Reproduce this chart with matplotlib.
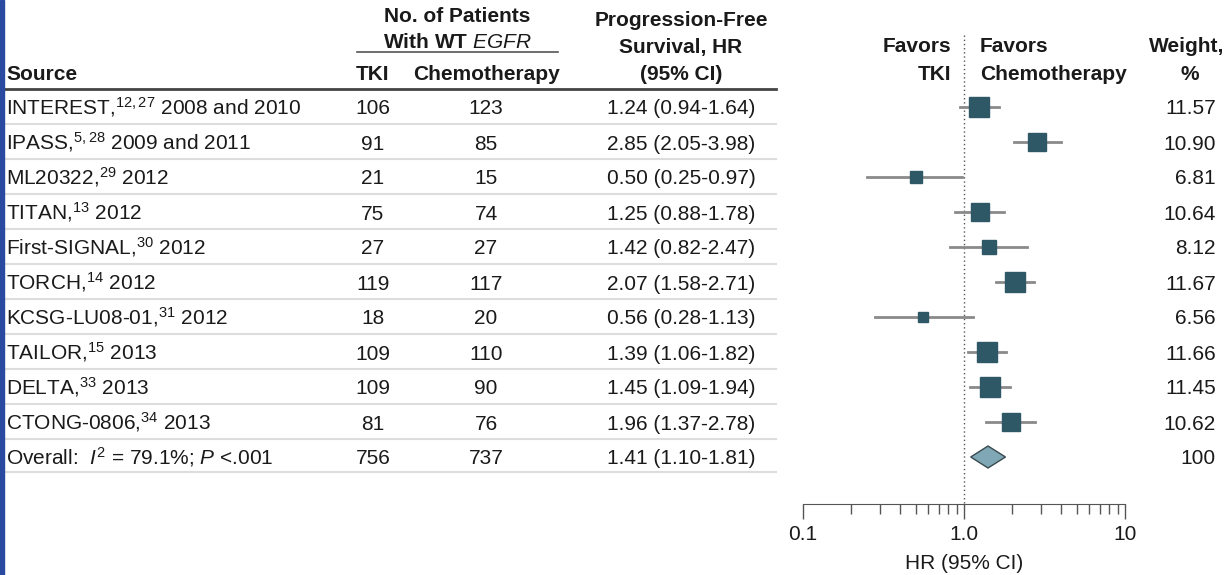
import numpy as np
import matplotlib
matplotlib.use("Agg")
import matplotlib.pyplot as plt
from matplotlib import font_manager
from matplotlib.patches import Rectangle, Polygon

names = {f.name for f in font_manager.fontManager.ttflist}
FONT = "Liberation Sans Narrow" if "Liberation Sans Narrow" in names else "Liberation Sans"
plt.rcParams["font.family"] = [FONT, "DejaVu Sans"]
plt.rcParams["mathtext.fontset"] = "custom"
plt.rcParams["mathtext.rm"] = FONT
plt.rcParams["mathtext.it"] = FONT + ":italic"

# data
sources = ["INTEREST", "IPASS", "ML20322", "TITAN", "First-SIGNAL", "TORCH",
           "KCSG-LU08-01", "TAILOR", "DELTA", "CTONG-0806"]
refs = ["12,27", "5,28", "29", "13", "30", "14", "31", "15", "33", "34"]
years = ["2008 and 2010", "2009 and 2011", "2012", "2012", "2012", "2012",
         "2012", "2013", "2013", "2013"]
n_tki = [106, 91, 21, 75, 27, 119, 18, 109, 109, 81]
n_chemo = [123, 85, 15, 74, 27, 117, 20, 110, 90, 76]
hr = [1.24, 2.85, 0.50, 1.25, 1.42, 2.07, 0.56, 1.39, 1.45, 1.96]
lo = [0.94, 2.05, 0.25, 0.88, 0.82, 1.58, 0.28, 1.06, 1.09, 1.37]
hi = [1.64, 3.98, 0.97, 1.78, 2.47, 2.71, 1.13, 1.82, 1.94, 2.78]
weight = [11.57, 10.90, 6.81, 10.64, 8.12, 11.67, 6.56, 11.66, 11.45, 10.62]
overall_n = (756, 737)
overall_hr = (1.41, 1.10, 1.81)
overall_label = "Overall:  $I^{2}$ = 79.1%; $P$ <.001"

W, H = 1226, 575
fig = plt.figure(figsize=(W / 100, H / 100), dpi=100)
tab = fig.add_axes([0, 0, 1, 1])
tab.set_xlim(0, W)
tab.set_ylim(H, 0)
tab.axis("off")

FS = 15
dark = "#1a1a1a"
row_y = 107 + 35 * np.arange(len(sources) + 1)


def txt(x, y, s, ha="center", bold=False):
    # y is the visual middle of capital letters
    tab.text(x, y + 7.5, s, ha=ha, va="baseline", fontsize=FS, color=dark,
             weight="bold" if bold else "normal")


# left blue strip
tab.add_patch(Rectangle((0, 0), 4, H, color="#2a4aa0", zorder=5))

# headers
txt(457, 15, "No. of Patients", bold=True)
txt(457, 40, "With WT $\\it{EGFR}$", bold=True)
tab.plot([357, 558], [52, 52], color="#555555", lw=1.2)
txt(6, 72, "Source", ha="left", bold=True)
txt(373, 72, "TKI", bold=True)
txt(486, 72, "Chemotherapy", bold=True)
for yy, t in zip([18, 45, 72], ["Progression-Free", "Survival, HR", "(95% CI)"]):
    txt(681, yy, t, bold=True)
txt(951, 45, "Favors", ha="right", bold=True)
txt(951, 72, "TKI", ha="right", bold=True)
txt(980, 45, "Favors", ha="left", bold=True)
txt(980, 72, "Chemotherapy", ha="left", bold=True)
txt(1224, 45, "Weight,", ha="right", bold=True)
txt(1190, 72, "%", bold=True)
tab.plot([0, 776], [89, 89], color="#444444", lw=2)

# rows
for i in range(len(sources)):
    y = row_y[i]
    txt(6, y, "%s,$^{\\mathregular{%s}}$ %s" % (sources[i], refs[i], years[i]), ha="left")
    txt(373, y, str(n_tki[i]))
    txt(486, y, str(n_chemo[i]))
    txt(681, y, "%.2f (%.2f-%.2f)" % (hr[i], lo[i], hi[i]))
    txt(1216, y, "%.2f" % weight[i], ha="right")
    tab.plot([0, 776], [y + 17, y + 17], color="#dddddd", lw=1.5)

y = row_y[-1]
txt(6, y, overall_label, ha="left")
txt(373, y, str(overall_n[0]))
txt(486, y, str(overall_n[1]))
txt(681, y, "%.2f (%.2f-%.2f)" % overall_hr)
txt(1216, y, "100", ha="right")
tab.plot([0, 776], [y + 15, y + 15], color="#dddddd", lw=1.5)

# forest panel
ax = fig.add_axes([803 / W, 0, 322 / W, 1])
ax.set_xscale("log")
ax.set_xlim(0.1, 10)
ax.set_ylim(H, 0)
ax.patch.set_alpha(0)
for s in ["top", "left", "right"]:
    ax.spines[s].set_visible(False)
ax.spines["bottom"].set_position(("data", 504))
ax.spines["bottom"].set_color("#555555")
ax.set_yticks([])
ax.set_xticks([0.1, 1, 10])
ax.set_xticklabels(["0.1", "1.0", "10"])
ax.tick_params(axis="x", which="major", direction="out", length=11, width=1, color="#555555",
               labelsize=FS, pad=4, labelcolor=dark)
ax.tick_params(axis="x", which="minor", direction="out", length=7, width=1, color="#555555")
ax.text(1.0, 569, "HR (95% CI)", ha="center", va="baseline", fontsize=FS, color=dark)

ax.plot([1, 1], [35, 504], color="#555555", lw=1, ls=(0, (1, 2)))

sq = "#2e5866"
for i in range(len(sources)):
    y = row_y[i]
    ax.plot([lo[i], hi[i]], [y, y], color="#8a8a8a", lw=2, zorder=2)
    ax.plot(hr[i], y, marker="s", ms=1.2 * weight[i], color=sq, mec=sq, zorder=3)

h, l, u = overall_hr
y = row_y[-1]
ax.add_patch(Polygon([(l, y), (h, y - 11), (u, y), (h, y + 11)], closed=True,
                     facecolor="#7fa7b5", edgecolor="#3a4a50", lw=1, zorder=3))

fig.savefig("out.png", dpi=100)
